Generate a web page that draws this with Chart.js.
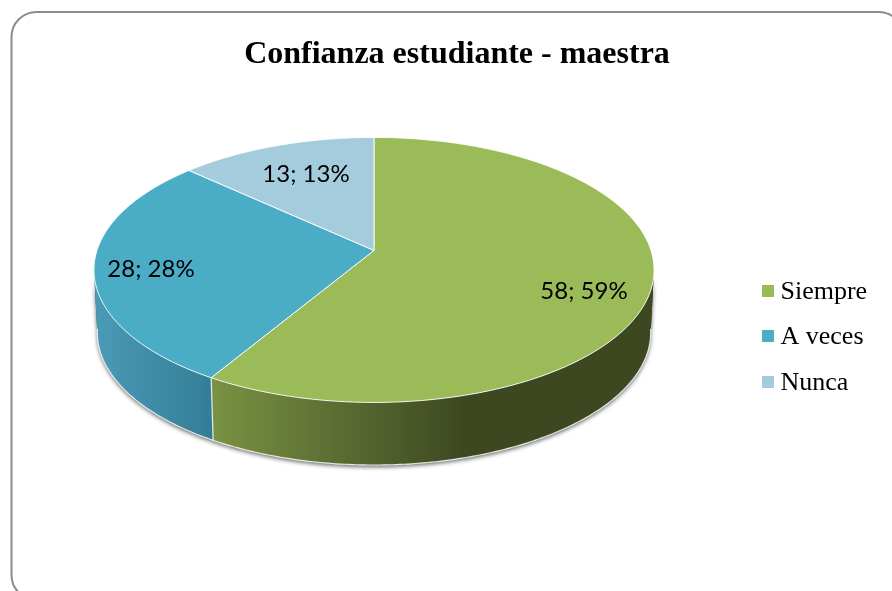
<!DOCTYPE html>
<html><head><meta charset="utf-8">
<style>html,body{margin:0;padding:0;background:#fff;overflow:hidden}canvas{display:block}#w{position:relative;width:892px;height:591px}</style>
<script src="https://cdn.jsdelivr.net/npm/chart.js@4"></script>
</head><body><div id="w"><canvas id="c" width="892" height="591"></canvas></div>
<script>
const chartTitle = 'Confianza estudiante - maestra';
const categories = ['Siempre', 'A veces', 'Nunca'];
const seriesValues = [58, 28, 13];
const sliceColors = ['#9BBB59', '#4BACC6', '#A5CCDC'];
const wallColors = [['#7A9243', '#3D4821', 0.57], ['#4A9AB6', '#337E97', 1], ['#7A9BA8', '#7A9BA8', 1]];
const labelAnchors = [[584, 291], [151, 269], [306, 174]];

// pie tilt (perspective) used to project the library's arcs
const tilt = -0.147, squash = 0.468, topShift = -85.5, depth = 62.6, depthScale = 0.988;

function project(el, a, r, bottom) {
  const u = Math.cos(a) * r, v = Math.sin(a) * r, w = 1 + tilt * v;
  const R = el.outerRadius;
  const k = bottom ? depthScale : 1;
  return [el.x + R * k * u / w, el.y + topShift + (bottom ? depth : 0) + R * squash * v / w];
}
function rim(ctx, el, a0, a1, bottom, move) {
  const n = Math.max(2, Math.ceil(Math.abs(a1 - a0) * 80));
  for (let i = 0; i <= n; i++) {
    const p = project(el, a0 + (a1 - a0) * i / n, 1, bottom);
    if (i === 0 && move) ctx.moveTo(p[0], p[1]); else ctx.lineTo(p[0], p[1]);
  }
}
// add the visible (front facing) strips of a slice's wall to the current path
function frontWall(ctx, el, a0, a1) {
  const n = Math.max(2, Math.ceil(Math.abs(a1 - a0) * 60));
  for (let i = 0; i < n; i++) {
    const s = a0 + (a1 - a0) * i / n, e = a0 + (a1 - a0) * (i + 1) / n;
    const p = [project(el, s, 1, false), project(el, e, 1, false), project(el, e, 1, true), project(el, s, 1, true)];
    if (p[1][0] >= p[0][0]) continue;
    ctx.moveTo(p[0][0], p[0][1]);
    for (let j = 1; j < 4; j++) ctx.lineTo(p[j][0], p[j][1]);
    ctx.closePath();
  }
}
const pie3d = {
  id: 'pie3d',
  beforeLayout(chart) {
    const lg = chart.legend;
    if (lg && !lg._p) {
      lg._p = true;
      const f = lg.fit;
      lg.fit = function () { f.call(this); this.width = 166; };
    }
  },
  beforeDraw(chart) {
    const c = chart.ctx;
    c.save();
    c.fillStyle = '#fff'; c.fillRect(0, 0, chart.width, chart.height);
    c.beginPath(); c.roundRect(11.5, 12, 892, 588, 25);
    c.strokeStyle = '#8C8C8C'; c.lineWidth = 2; c.stroke();
    c.restore();
  },
  beforeDatasetsDraw(chart) {
    const c = chart.ctx, arcs = chart.getDatasetMeta(0).data;
    const all = arcs[0];
    c.save();
    // soft shadow around the front wall
    c.save();
    c.shadowColor = 'rgba(0,0,0,0.6)'; c.shadowBlur = 4; c.shadowOffsetY = 2;
    c.fillStyle = '#3D4821';
    c.beginPath(); frontWall(c, all, 0, Math.PI * 2); c.fill();
    c.restore();
    // walls
    arcs.forEach((el, i) => {
      const [a, b, stop] = wallColors[i];
      const s = project(el, el.startAngle, 1, false)[0], e = project(el, el.endAngle, 1, false)[0];
      const left = i === 1 ? 97 : Math.min(s, e), right = i === 0 ? s + 280 : Math.max(s, e);
      const g = c.createLinearGradient(left, 0, right, 0);
      g.addColorStop(0, a); g.addColorStop(stop, b); g.addColorStop(1, b);
      c.fillStyle = g;
      c.beginPath(); frontWall(c, el, el.startAngle, el.endAngle); c.fill();
    });
    // white edges on the walls
    c.strokeStyle = 'rgba(255,255,255,0.85)'; c.lineWidth = 1.2;
    c.beginPath(); rim(c, all, 0.12, Math.PI - 0.12, true, true); c.stroke();
    const seam = arcs[0];
    const p0 = project(seam, seam.endAngle, 1, false), p1 = project(seam, seam.endAngle, 1, true);
    c.beginPath(); c.moveTo(p0[0], p0[1]); c.lineTo(p1[0], p1[1]); c.stroke();
    // top faces
    arcs.forEach((el, i) => {
      c.fillStyle = sliceColors[i];
      c.beginPath();
      const ctr = project(el, 0, 0, false);
      c.moveTo(ctr[0], ctr[1]);
      rim(c, el, el.startAngle, el.endAngle, false, false);
      c.closePath(); c.fill();
      c.strokeStyle = 'rgba(255,255,255,0.9)'; c.lineWidth = 1; c.stroke();
    });
    // data labels
    const total = seriesValues.reduce((s, v) => s + v, 0);
    c.fillStyle = '#000';
    c.font = '24px Lato';
    c.textAlign = 'center'; c.textBaseline = 'middle';
    seriesValues.forEach((v, i) => {
      c.fillText(v + '; ' + Math.round(v / total * 100) + '%', labelAnchors[i][0], labelAnchors[i][1]);
    });
    c.restore();
    return false;
  },
  afterDraw(chart) {
    const c = chart.ctx, lg = chart.legend;
    lg.legendHitBoxes.forEach((h, i) => {
      c.fillStyle = sliceColors[i];
      c.fillRect(Math.round(h.left - 6), Math.round(h.top + h.height / 2 - 7.5), 12, 12);
    });
  }
};
new Chart(document.getElementById('c'), {
  type: 'pie',
  data: { labels: categories, datasets: [{ data: seriesValues, backgroundColor: sliceColors, borderWidth: 0 }] },
  options: {
    responsive: false, animation: false, radius: 277,
    layout: { padding: { left: 0, right: -22, top: 0, bottom: -84 } },
    plugins: {
      tooltip: { enabled: false },
      title: { display: true, text: chartTitle, color: '#000', font: { family: '"Liberation Serif"', size: 32, weight: 'bold' }, padding: { top: 36, bottom: 6.5 } },
      legend: { position: 'right', onClick: null, labels: { color: '#000', boxWidth: 0, boxHeight: 12, padding: 19.5, font: { family: '"Liberation Serif"', size: 26 } } }
    }
  },
  plugins: [pie3d]
});
</script></body></html>
